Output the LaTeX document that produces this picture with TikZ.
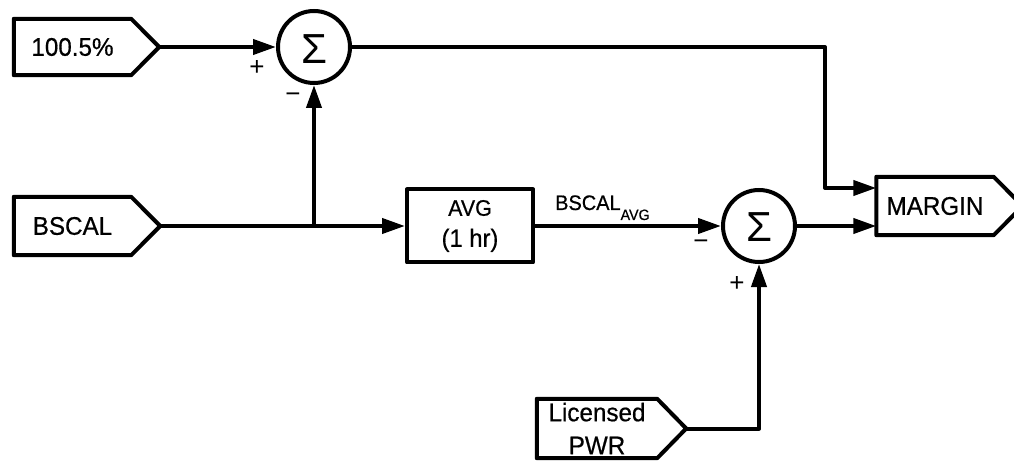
\documentclass[tikz,border=0pt]{standalone}
\usepackage{fontspec}
\setmainfont[FakeStretch=0.95,FakeBold=0.6]{Liberation Sans}
\newfontfamily\sigfont{Liberation Sans}
\usetikzlibrary{arrows.meta,calc}
\begin{document}
\begin{tikzpicture}[x=1pt,y=-1pt,
  boxline/.style={draw, line width=4pt, line join=round},
  intext/.style={inner sep=0pt, align=center, font=\fontsize{25.5}{33}\selectfont},
  sumnode/.style={draw, circle, line width=4pt, minimum size=72pt, inner sep=0pt},
  conn/.style={line width=4pt, line join=round},
  arr/.style={conn, -{Triangle[length=23pt,width=15pt]}},
  sign/.style={inner sep=0pt, font=\sigfont\fontsize{26}{26}\selectfont},
  sigma/.style={inner sep=0pt, font=\sigfont\fontsize{42}{42}\selectfont},
]
\useasboundingbox (0,0) rectangle (1014,462);

% input / output boxes (text area = rectangular part)
\node[intext, minimum width=117pt, minimum height=56pt] (pct) at (72.5,47) {100.5\%};
\draw[boxline] (pct.north west) -- (pct.north east) -- ([xshift=28pt]pct.east) coordinate (pcttip)
  -- (pct.south east) -- (pct.south west) -- cycle;

\node[intext, minimum width=117pt, minimum height=58pt] (bscal) at (72.5,226) {BSCAL};
\draw[boxline] (bscal.north west) -- (bscal.north east) -- ([xshift=29pt]bscal.east) coordinate (bscaltip)
  -- (bscal.south east) -- (bscal.south west) -- cycle;

\node[intext, minimum width=120pt, minimum height=59pt] (lic) at (597,428.5) {Licensed\\PWR};
\draw[boxline] (lic.north west) -- (lic.north east) -- ([xshift=29pt]lic.east) coordinate (lictip)
  -- (lic.south east) -- (lic.south west) -- cycle;

\node[intext, minimum width=117pt, minimum height=58pt] (margin) at (935,206) {MARGIN};
\draw[boxline] (margin.north west) -- (margin.north east) -- ([xshift=29pt]margin.east) coordinate (margintip)
  -- (margin.south east) -- (margin.south west) -- cycle;

% average block
\node[boxline, inner sep=0pt, minimum width=126pt, minimum height=73pt, align=center,
      font=\fontsize{22.5}{31}\selectfont] (avg) at (470,226)
      {AVG\\{\fontsize{25}{31}\selectfont (1 hr)}};

% summing junctions
\node[sumnode] (s1) at (314,47) {};
\node[sigma] (sig1) at (314.5,49) {Σ};
\node[sumnode] (s2) at (759,226) {};
\node[sigma] (sig2) at (759,227) {Σ};

% bend points
\coordinate (br) at (314,226);
\coordinate (c1) at (825,47);
\coordinate (c2) at (825,188);
\coordinate (c3) at (759,428.5);

% connectors
\draw[arr] (pcttip) -- (s1);
\draw[arr] (bscaltip) -- (avg);
\draw[arr] (br) -- (s1);
\draw[arr] (s1) -- (c1) -- (c2) -- (c2 -| margin.west);
\draw[arr] (avg) -- (s2);
\draw[arr] (s2) -- (s2 -| margin.west);
\draw[arr] (lictip) -- (c3) -- (s2);

% signs and labels
\node[sign] (p1) at (257,68) {+};
\node[sign] (m1) at (293,98) {−};
\node[sign] (m2) at (701,245) {−};
\node[sign] (p2) at (737,284) {+};
\node[anchor=base west, inner sep=0pt, font=\fontsize{21}{21}\selectfont] (lbl) at (555,210)
  {BSCAL\raisebox{-10pt}{\fontsize{15}{15}\selectfont AVG}};
\end{tikzpicture}
\end{document}
